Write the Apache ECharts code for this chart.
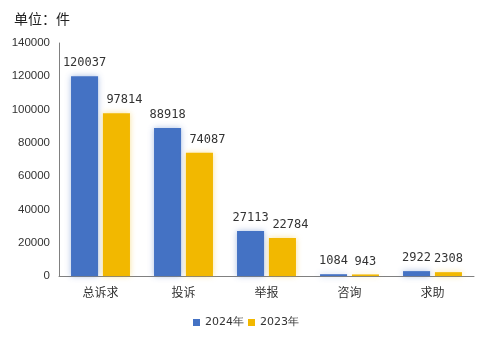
<!DOCTYPE html>
<html><head><meta charset="utf-8">
<script src="https://cdn.jsdelivr.net/npm/echarts@6/dist/echarts.min.js"></script>
<style>html,body{margin:0;padding:0;background:#fff}#c{width:492px;height:345px}</style>
</head><body><div id="c"></div>
<script>
const categories = ['总诉求','投诉','举报','咨询','求助'];
const values2024 = [120037, 88918, 27113, 1084, 2922];
const values2023 = [97814, 74087, 22784, 943, 2308];
const seriesNames = ['2024年','2023年'];
const chart = echarts.init(document.getElementById('c'));
const lbl = {show:true, position:'top', distance:7, color:'#333', fontSize:12, fontFamily:'DejaVu Sans Mono'};
// the 2023 labels of the three tall groups sit a little to the right in the original
const shifted2023 = [true, true, true, false, false];
const data2023 = values2023.map((v, i) => shifted2023[i] ? {value:v, label:{offset:[8,0]}} : v);
chart.setOption({
  animation:false,
  title:{text:'单位：件', left:9, top:7, textStyle:{fontSize:14, fontWeight:'normal', color:'#222', fontFamily:'Noto Sans CJK SC'}},
  grid:{left:59, right:18, top:43, bottom:69},
  legend:{bottom:12, left:'center', itemWidth:7, itemHeight:7, itemGap:4, icon:'rect',
    textStyle:{fontSize:11, color:'#333', fontFamily:'DejaVu Sans'}},
  xAxis:{type:'category', data:categories, axisTick:{show:false},
    axisLine:{lineStyle:{color:'#808080'}},
    axisLabel:{fontSize:12, color:'#333', margin:10, fontFamily:'Noto Sans CJK SC'}},
  yAxis:{type:'value', min:0, max:140000, interval:20000, splitLine:{show:false},
    axisLine:{show:true, lineStyle:{color:'#808080'}},
    axisLabel:{fontSize:11.5, color:'#333', margin:9, fontFamily:'Liberation Sans', formatter:v=>String(v)}},
  series:[
    {name:seriesNames[0], type:'bar', data:values2024, barGap:'18%', barCategoryGap:'29%',
     itemStyle:{color:'#4472C4', shadowBlur:6, shadowColor:'rgba(68,114,196,0.45)'}, label:lbl},
    {name:seriesNames[1], type:'bar', data:data2023,
     itemStyle:{color:'#F2B800', shadowBlur:6, shadowColor:'rgba(242,184,0,0.4)'}, label:lbl}
  ]
});
</script></body></html>
